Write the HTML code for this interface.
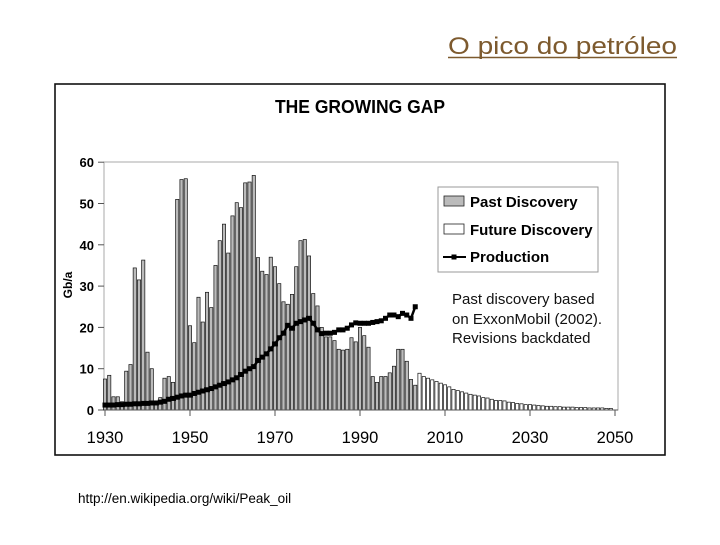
<!DOCTYPE html>
<html><head><meta charset="utf-8"><style>
body{margin:0;background:#fff;width:720px;height:540px;overflow:hidden;font-family:"Liberation Sans",sans-serif}
</style></head><body>
<svg width="720" height="540" viewBox="0 0 720 540">
<a><text x="448" y="54" textLength="229" lengthAdjust="spacingAndGlyphs" font-size="24" fill="#7d5a2e" font-family="Liberation Sans, sans-serif">O pico do petróleo</text></a>
<line x1="448" y1="57.5" x2="677" y2="57.5" stroke="#7d5a2e" stroke-width="1.4"/>
<rect x="55" y="84" width="610" height="371" fill="#fff" stroke="#111" stroke-width="1.6"/>
<text x="275" y="113" textLength="170" lengthAdjust="spacingAndGlyphs" font-size="18" font-weight="bold">THE GROWING GAP</text>
<g id="plot"></g>
<text transform="translate(72,285) rotate(-90)" text-anchor="middle" font-size="12" font-weight="bold">Gb/a</text>
<g>
<rect x="438" y="187" width="160" height="85" fill="#fff" stroke="#999" stroke-width="1"/>
<rect x="444" y="196" width="20" height="10" fill="#bbb" stroke="#222" stroke-width="0.8"/>
<text x="470" y="207" font-size="15" font-weight="bold">Past Discovery</text>
<rect x="444" y="224" width="20" height="10" fill="#fff" stroke="#222" stroke-width="0.8"/>
<text x="470" y="235" font-size="15" font-weight="bold">Future Discovery</text>
<line x1="443" y1="257" x2="466" y2="257" stroke="#000" stroke-width="2"/>
<rect x="451.5" y="254.5" width="5" height="5" fill="#000"/>
<text x="470" y="262" font-size="15" font-weight="bold">Production</text>
</g>
<g font-size="15" fill="#111">
<text x="452" y="304">Past discovery based</text>
<text x="452" y="324">on ExxonMobil (2002).</text>
<text x="452" y="343">Revisions backdated</text>
</g>
<text x="78" y="503" font-size="13.5">http://en.wikipedia.org/wiki/Peak_oil</text>
</svg>
<script>
const pastYears0 = 1930;
const pastValues = [7.5,8.4,3.2,3.2,2,9.4,11,34.4,31.5,36.3,14,10,2,3,7.7,8.1,6.7,51,55.8,56,20.4,16.3,27.3,21.3,28.5,24.8,35,41,45,38,47,50.2,49,55,55.2,56.8,36.9,33.6,32.8,37,34.7,30.6,26.2,25.6,28,34.7,41,41.3,37.3,28.2,25.2,20,17.7,17.7,16.8,14.7,14.5,14.7,17.5,16.5,20,18,15.2,8.1,6.7,8.1,8.1,9,10.6,14.7,14.7,11.8,7.4,6];
const futureYears0 = 2004;
const futureValues = [8.9,8.1,7.7,7.3,6.9,6.5,6.1,5.6,5.0,4.7,4.4,4.1,3.8,3.6,3.4,3.0,2.9,2.6,2.3,2.3,2.2,1.9,1.8,1.6,1.5,1.3,1.3,1.2,1.1,1.0,0.9,0.9,0.8,0.8,0.7,0.7,0.7,0.6,0.6,0.6,0.5,0.5,0.5,0.5,0.4,0.4];
const prodYears0 = 1930;
const prodValues = [1.2,1.2,1.2,1.3,1.3,1.4,1.4,1.5,1.5,1.6,1.6,1.7,1.7,1.9,2.1,2.6,2.8,3.1,3.4,3.6,3.6,4.0,4.3,4.6,4.9,5.2,5.6,6.0,6.4,6.8,7.3,7.8,8.6,9.4,10.0,10.5,12,12.8,13.6,14.8,16,17.5,18.6,20.5,19.8,21,21.4,21.8,22.2,21,19.4,18.5,18.6,18.6,18.8,19.4,19.4,19.8,20.6,21.1,21,21,21,21.2,21.4,21.6,22.2,23,23,22.6,23.4,23,22.2,25];
const yTicks = [0,10,20,30,40,50,60];
const xTicks = [1930,1950,1970,1990,2010,2030,2050];

const NS='http://www.w3.org/2000/svg';
const plot=document.getElementById('plot');
const xS=y=>105+(y-1930)*4.25;
const yS=v=>410-v*4.13;
function mk(t,a){const e=document.createElementNS(NS,t);for(const k in a)e.setAttribute(k,a[k]);plot.appendChild(e);return e;}
let e;
e=mk('rect',{x:104,y:162,width:514,height:248,fill:'none',stroke:'#aaa','stroke-width':1});


yTicks.forEach(v=>{
  e=mk('line',{x1:98,x2:104,y1:yS(v),y2:yS(v),stroke:'#555'});
  
  
  e=mk('text',{x:94,y:yS(v)+5,'text-anchor':'end','font-size':13,'font-weight':'bold'});e.textContent=v;
  
  
});
pastValues.forEach((v,i)=>{
  const yr=pastYears0+i;
  e=mk('rect',{x:xS(yr)-1.6,y:yS(v),width:3.2,height:v*4.13,fill:'#bbb',stroke:'#111','stroke-width':0.7});
  
  
});
futureValues.forEach((v,i)=>{
  const yr=futureYears0+i;
  e=mk('rect',{x:xS(yr)-1.6,y:yS(v),width:3.2,height:v*4.13,fill:'#fff',stroke:'#111','stroke-width':0.7});
  
  
});
e=mk('line',{x1:104,x2:618,y1:410,y2:410,stroke:'#555'});


xTicks.forEach(t=>{
  e=mk('line',{x1:xS(t),x2:xS(t),y1:410,y2:416,stroke:'#555'});
  
  
  e=mk('text',{x:xS(t),y:443,'text-anchor':'middle','font-size':16.5});e.textContent=t;
  
  
});
e=mk('polyline',{points:prodValues.map((v,i)=>xS(prodYears0+i)+','+yS(v)).join(' '),fill:'none',stroke:'#000','stroke-width':2.5});


prodValues.forEach((v,i)=>{
  e=mk('rect',{x:xS(prodYears0+i)-2.5,y:yS(v)-2.5,width:5,height:5,fill:'#000'});
  
  
});
</script>
</body></html>
